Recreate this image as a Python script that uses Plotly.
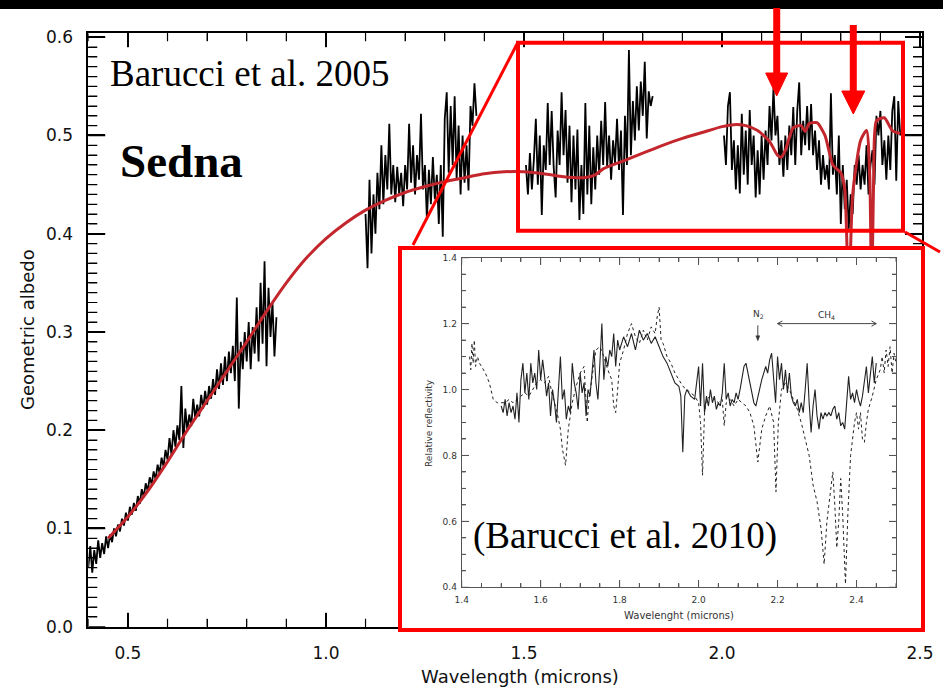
import numpy as np
import plotly.graph_objects as go

W, H = 943, 691


def fx(p):
    return p / W


def fy(p):
    return 1 - p / H


# ---------------- data ----------------
# Main spectrum (Barucci et al. 2005): geometric albedo, four spectral segments
vis_start, vis_step = 0.400, 0.005
vis_albedo = [0.060, 0.082, 0.055, 0.078, 0.064, 0.088, 0.070, 0.085, 0.074, 0.092,
              0.080, 0.094, 0.086, 0.100, 0.092, 0.104, 0.097, 0.110, 0.103, 0.116,
              0.108, 0.122, 0.114, 0.126, 0.118, 0.133, 0.125, 0.140, 0.132, 0.146,
              0.138, 0.152, 0.145, 0.158, 0.150, 0.165, 0.156, 0.172, 0.163, 0.180,
              0.170, 0.192, 0.175, 0.200, 0.183, 0.205, 0.190, 0.245, 0.182, 0.222,
              0.200, 0.216, 0.204, 0.232, 0.212, 0.226, 0.214, 0.236, 0.222, 0.240,
              0.226, 0.245, 0.232, 0.252, 0.236, 0.262, 0.242, 0.268, 0.246, 0.275,
              0.250, 0.280, 0.258, 0.286, 0.250, 0.335, 0.222, 0.290, 0.262, 0.300,
              0.270, 0.310, 0.262, 0.305, 0.278, 0.325, 0.270, 0.350, 0.288, 0.372,
              0.265, 0.345, 0.295, 0.330, 0.275, 0.315]

j_start, j_step = 1.100, 0.005
j_albedo = [0.420, 0.365, 0.455, 0.380, 0.440, 0.400, 0.462, 0.425, 0.490, 0.430,
            0.480, 0.445, 0.512, 0.440, 0.470, 0.432, 0.468, 0.440, 0.462, 0.428,
            0.470, 0.445, 0.512, 0.452, 0.490, 0.440, 0.480, 0.455, 0.522, 0.445,
            0.470, 0.414, 0.465, 0.430, 0.478, 0.435, 0.460, 0.410, 0.470, 0.397,
            0.517, 0.544, 0.462, 0.530, 0.470, 0.540, 0.455, 0.510, 0.440, 0.500,
            0.452, 0.490, 0.444, 0.530, 0.510, 0.553, 0.520]

h_start, h_step = 1.505, 0.005
h_albedo = [0.470, 0.440, 0.482, 0.445, 0.475, 0.517, 0.450, 0.500, 0.419, 0.490,
            0.465, 0.533, 0.470, 0.525, 0.468, 0.437, 0.505, 0.470, 0.544, 0.480,
            0.526, 0.452, 0.510, 0.432, 0.500, 0.445, 0.506, 0.414, 0.470, 0.420,
            0.533, 0.440, 0.510, 0.430, 0.488, 0.445, 0.500, 0.460, 0.515, 0.470,
            0.534, 0.468, 0.500, 0.455, 0.495, 0.472, 0.517, 0.465, 0.505, 0.419,
            0.520, 0.470, 0.587, 0.480, 0.535, 0.495, 0.550, 0.505, 0.555, 0.520,
            0.575, 0.497, 0.545, 0.530, 0.540]

k_start, k_step = 2.005, 0.005
k_albedo = [0.500, 0.470, 0.530, 0.544, 0.465, 0.495, 0.445, 0.490, 0.441, 0.522,
            0.460, 0.505, 0.450, 0.526, 0.470, 0.500, 0.437, 0.485, 0.440, 0.500,
            0.455, 0.505, 0.470, 0.530, 0.495, 0.548, 0.500, 0.520, 0.470, 0.495,
            0.458, 0.500, 0.465, 0.510, 0.480, 0.529, 0.470, 0.525, 0.554, 0.480,
            0.515, 0.490, 0.530, 0.485, 0.532, 0.480, 0.505, 0.465, 0.495, 0.450,
            0.480, 0.455, 0.470, 0.445, 0.543, 0.460, 0.480, 0.440, 0.500, 0.410,
            0.470, 0.425, 0.455, 0.405, 0.440, 0.420, 0.470, 0.450, 0.480, 0.445,
            0.470, 0.450, 0.490, 0.440, 0.470, 0.485, 0.450, 0.520, 0.500, 0.525,
            0.470, 0.495, 0.455, 0.500, 0.465, 0.525, 0.540, 0.454, 0.535, 0.500]

# Model fit (red curve)
model_wl = [0.45, 0.50, 0.55, 0.60, 0.65, 0.70, 0.75, 0.80, 0.85, 0.90,
            0.95, 1.00, 1.05, 1.10, 1.15, 1.20, 1.25, 1.30, 1.35, 1.40,
            1.45, 1.50, 1.55, 1.60, 1.65, 1.68, 1.70, 1.75, 1.80, 1.85,
            1.90, 1.95, 2.00, 2.03, 2.06, 2.09, 2.12, 2.14, 2.15, 2.16,
            2.18, 2.20, 2.21, 2.22, 2.24, 2.26, 2.28, 2.30, 2.31, 2.32,
            2.33, 2.35, 2.365, 2.373, 2.378, 2.383, 2.39, 2.41, 2.43, 2.45]
model_albedo = [0.090, 0.112, 0.138, 0.168, 0.200, 0.230, 0.260, 0.290, 0.321, 0.350,
                0.375, 0.395, 0.411, 0.424, 0.434, 0.442, 0.448, 0.453, 0.457, 0.461,
                0.463, 0.463, 0.461, 0.458, 0.457, 0.460, 0.466, 0.474, 0.482, 0.490,
                0.497, 0.503, 0.509, 0.511, 0.510, 0.505, 0.494, 0.480, 0.478, 0.485,
                0.508, 0.510, 0.504, 0.512, 0.513, 0.500, 0.470, 0.462, 0.445, 0.330,
                0.440, 0.495, 0.505, 0.460, 0.330, 0.460, 0.515, 0.518, 0.505, 0.502]

# Inset (Barucci et al. 2010): relative reflectivity
inset_obs_wl = [1.500, 1.505, 1.510, 1.515, 1.520, 1.525, 1.530, 1.535, 1.540, 1.545,
                1.550, 1.555, 1.560, 1.565, 1.570, 1.575, 1.580, 1.585, 1.590, 1.595,
                1.600, 1.605, 1.610, 1.615, 1.620, 1.625, 1.630, 1.635, 1.640, 1.645,
                1.650, 1.655, 1.660, 1.665, 1.670, 1.675, 1.680, 1.685, 1.690, 1.695,
                1.700, 1.705, 1.710, 1.715, 1.720, 1.725, 1.730, 1.735, 1.740, 1.745,
                1.750, 1.755, 1.760, 1.765, 1.770, 1.775, 1.780, 1.785, 1.790, 1.795,
                1.800, 1.810, 1.820, 1.830, 1.840, 1.850, 1.860, 1.870, 1.880, 1.890,
                1.900, 1.910, 1.920, 1.930, 1.940, 1.950, 1.955, 1.960, 1.965, 1.970,
                1.980, 1.990, 2.000, 2.005, 2.010, 2.015, 2.020, 2.025, 2.030, 2.035,
                2.040, 2.045, 2.050, 2.055, 2.060, 2.065, 2.070, 2.075, 2.080, 2.085,
                2.090, 2.095, 2.100, 2.105, 2.110, 2.115, 2.120, 2.125, 2.130, 2.135,
                2.140, 2.145, 2.150, 2.155, 2.160, 2.165, 2.170, 2.175, 2.180, 2.185,
                2.190, 2.195, 2.200, 2.205, 2.210, 2.215, 2.220, 2.225, 2.230, 2.235,
                2.240, 2.245, 2.250, 2.255, 2.260, 2.265, 2.270, 2.275, 2.280, 2.285,
                2.290, 2.295, 2.300, 2.305, 2.310, 2.315, 2.320, 2.325, 2.330, 2.335,
                2.340, 2.345, 2.350, 2.355, 2.360, 2.365, 2.370, 2.375, 2.380, 2.385,
                2.390, 2.395, 2.400, 2.405, 2.410, 2.415, 2.420, 2.425, 2.430, 2.435,
                2.440, 2.445, 2.450]
inset_obs_refl = [0.95, 0.93, 0.97, 0.92, 0.96, 0.93, 0.95, 0.91, 0.99, 0.90,
                  1.03, 1.08, 0.99, 1.05, 0.97, 1.08, 1.02, 1.05, 1.00, 1.12,
                  1.03, 1.09, 1.04, 0.98, 1.02, 0.92, 1.00, 0.96, 0.90, 1.00,
                  1.10, 0.97, 1.00, 0.91, 0.95, 0.93, 1.08, 1.02, 0.99, 0.94,
                  1.05, 0.99, 1.02, 0.92, 1.00, 0.98, 1.06, 1.12, 1.02, 0.97,
                  1.08, 1.20, 1.03, 1.10, 1.07, 1.12, 1.10, 1.17, 1.07, 1.15,
                  1.12, 1.16, 1.13, 1.17, 1.12, 1.18, 1.15, 1.17, 1.14, 1.16,
                  1.13, 1.10, 1.08, 1.05, 1.02, 1.01, 0.98, 0.81, 0.98, 1.00,
                  0.98, 0.97, 1.07, 0.95, 1.08, 0.93, 0.98, 0.95, 1.00, 0.96,
                  0.98, 0.94, 0.96, 0.95, 0.99, 1.08, 0.97, 0.99, 0.95, 0.97,
                  0.96, 0.99, 0.97, 1.00, 1.04, 1.07, 1.08, 1.05, 1.02, 0.99,
                  0.96, 0.95, 0.98, 1.00, 1.03, 1.05, 1.07, 1.05, 1.09, 1.11,
                  1.02, 0.96, 1.10, 1.03, 1.08, 1.00, 1.06, 0.99, 1.05, 0.98,
                  0.96, 0.95, 0.97, 0.93, 0.96, 0.93, 1.00, 1.08, 0.96, 0.87,
                  0.95, 1.00, 0.92, 0.88, 0.93, 0.91, 0.93, 0.92, 0.93, 0.92,
                  0.94, 0.95, 0.91, 0.93, 0.89, 0.90, 0.88, 0.95, 1.04, 0.97,
                  0.99, 0.96, 1.00, 0.97, 0.95, 0.98, 1.02, 1.07, 0.99, 1.05,
                  1.10, 1.02, 1.08]

inset_model_wl = [1.420, 1.423, 1.426, 1.429, 1.432, 1.435, 1.440, 1.445, 1.450, 1.460,
                  1.470, 1.480, 1.490, 1.500, 1.510, 1.520, 1.530, 1.540, 1.550, 1.560,
                  1.570, 1.580, 1.590, 1.600, 1.610, 1.620, 1.630, 1.640, 1.650, 1.655,
                  1.663, 1.670, 1.680, 1.690, 1.700, 1.710, 1.715, 1.718, 1.722, 1.730,
                  1.740, 1.750, 1.760, 1.770, 1.780, 1.785, 1.790, 1.795, 1.800, 1.810,
                  1.820, 1.830, 1.840, 1.850, 1.860, 1.870, 1.880, 1.890, 1.895, 1.900,
                  1.905, 1.910, 1.920, 1.930, 1.940, 1.950, 1.960, 1.970, 1.980, 1.990,
                  2.000, 2.005, 2.010, 2.015, 2.020, 2.030, 2.040, 2.050, 2.060, 2.065,
                  2.070, 2.080, 2.090, 2.100, 2.110, 2.120, 2.130, 2.140, 2.150, 2.155,
                  2.160, 2.170, 2.180, 2.190, 2.196, 2.202, 2.210, 2.220, 2.230, 2.240,
                  2.250, 2.260, 2.270, 2.280, 2.290, 2.300, 2.310, 2.318, 2.325, 2.335,
                  2.340, 2.345, 2.350, 2.355, 2.360, 2.365, 2.372, 2.378, 2.385, 2.395,
                  2.400, 2.405, 2.410, 2.415, 2.420, 2.425, 2.430, 2.440, 2.450, 2.460,
                  2.465, 2.470, 2.475, 2.480, 2.485, 2.490, 2.495, 2.500]
inset_model_refl = [1.10, 1.06, 1.14, 1.08, 1.15, 1.07, 1.10, 1.08, 1.07, 1.05,
                    1.02, 0.97, 0.96, 0.96, 0.96, 0.97, 0.96, 0.97, 0.98, 0.99,
                    0.98, 1.00, 1.02, 1.03, 1.02, 1.04, 0.98, 0.94, 0.88, 0.82,
                    0.77, 0.88, 0.96, 1.01, 1.05, 1.07, 0.95, 0.90, 0.97, 1.04,
                    1.12, 1.13, 1.10, 1.06, 1.03, 0.95, 0.93, 1.00, 1.08, 1.12,
                    1.17, 1.20, 1.16, 1.14, 1.18, 1.15, 1.19, 1.17, 1.22, 1.25,
                    1.15, 1.14, 1.10, 1.08, 1.05, 1.03, 1.01, 1.00, 0.99, 0.98,
                    0.96, 0.90, 0.74, 0.93, 0.97, 0.98, 0.97, 0.96, 0.97, 0.89,
                    0.96, 0.97, 0.95, 0.97, 0.96, 0.95, 0.93, 0.89, 0.78, 0.83,
                    0.88, 0.92, 0.95, 0.90, 0.69, 0.90, 1.00, 1.02, 1.00, 0.97,
                    0.94, 0.90, 0.85, 0.80, 0.71, 0.66, 0.58, 0.47, 0.60, 0.70,
                    0.75, 0.65, 0.52, 0.60, 0.73, 0.62, 0.41, 0.62, 0.80, 0.90,
                    0.93, 0.88, 0.93, 0.85, 0.84, 0.90, 0.94, 0.98, 1.03, 1.06,
                    1.10, 1.05, 1.12, 1.07, 1.13, 1.05, 1.11, 1.08]

# tick values
main_xticks = [0.5, 1.0, 1.5, 2.0, 2.5]
main_yticks = [0.0, 0.1, 0.2, 0.3, 0.4, 0.5, 0.6]
inset_xticks = [1.4, 1.6, 1.8, 2.0, 2.2, 2.4]
inset_yticks = [0.4, 0.6, 0.8, 1.0, 1.2, 1.4]

# band markers in the inset
n2_wl = 2.15
ch4_range = [2.20, 2.45]
band_level = 1.20

# ---------------- geometry ----------------
MX = (88.3, 922.0)      # main plot x pixels
MY = (626.7, 33.3)      # main plot y pixels (bottom, top)
MXR = (0.4, 2.505)
MYR = (0.0, 0.604)
IX = (461.7, 896.0)     # inset plot x pixels
IY = (587.3, 257.7)
IXR = (1.4, 2.5)
IYR = (0.4, 1.4)


def ix(v):  # inset data x -> paper
    return fx(IX[0] + (v - IXR[0]) / (IXR[1] - IXR[0]) * (IX[1] - IX[0]))


def iy(v):  # inset data y -> paper
    return fy(IY[0] - (v - IYR[0]) / (IYR[1] - IYR[0]) * (IY[0] - IY[1]))


def grid(start, step, vals):
    return list(np.round(start + step * np.arange(len(vals)), 4))


def tick_path(xvals, yvals, xr, yr, xlen, ylen):
    """segments for inside ticks on all four sides (in data units)"""
    px, py = [], []
    for v in xvals:
        px += [v, v, None, v, v, None]
        py += [yr[0], yr[0] + ylen, None, yr[1], yr[1] - ylen, None]
    for v in yvals:
        px += [xr[0], xr[0] + xlen, None, xr[1], xr[1] - xlen, None]
        py += [v, v, None, v, v, None]
    return px, py


# assemble the observed spectrum with gaps between segments
obs_x, obs_y = [], []
for st, sp, vals in [(vis_start, vis_step, vis_albedo), (j_start, j_step, j_albedo),
                     (h_start, h_step, h_albedo), (k_start, k_step, k_albedo)]:
    obs_x += [float(v) for v in grid(st, sp, vals)] + [None]
    obs_y += list(vals) + [None]

fig = go.Figure()

# tick marks (main): lengths converted from pixels through the axis scale
mx_ppu = (MX[1] - MX[0]) / (MXR[1] - MXR[0])
my_ppu = (MY[0] - MY[1]) / (MYR[1] - MYR[0])
minor_x = [round(v, 3) for v in np.arange(0.4, 2.5001, 0.1) if round(v, 3) not in main_xticks]
minor_y = [round(v, 3) for v in np.arange(0.0, 0.6001, 0.01)
           if min(abs(v - t) for t in main_yticks) > 1e-6]
tx, ty = tick_path(main_xticks, main_yticks, MXR, MYR, 17 / mx_ppu, 14 / my_ppu)
fig.add_trace(go.Scatter(x=tx, y=ty, mode="lines", line=dict(color="black", width=1.5),
                         hoverinfo="skip", showlegend=False))
tx, ty = tick_path(minor_x, minor_y, MXR, MYR, 9 / mx_ppu, 8 / my_ppu)
fig.add_trace(go.Scatter(x=tx, y=ty, mode="lines", line=dict(color="black", width=1.2),
                         hoverinfo="skip", showlegend=False))

fig.add_trace(go.Scatter(x=obs_x, y=obs_y, mode="lines",
                         line=dict(color="black", width=1.8),
                         hoverinfo="skip", showlegend=False))
fig.add_trace(go.Scatter(x=model_wl, y=model_albedo, mode="lines",
                         line=dict(color="#c3262c", width=3, shape="spline", smoothing=0.6),
                         hoverinfo="skip", showlegend=False))
# white cover behind the inset
fig.add_trace(go.Scatter(x=[0.5], y=[0.5], xaxis="x2", yaxis="y2", mode="markers",
                         marker=dict(opacity=0), hoverinfo="skip", showlegend=False))

# inset tick marks
ix_ppu = (IX[1] - IX[0]) / (IXR[1] - IXR[0])
iy_ppu = (IY[0] - IY[1]) / (IYR[1] - IYR[0])
iminor_x = [round(v, 3) for v in np.arange(1.4, 2.5001, 0.05)
            if min(abs(v - t) for t in inset_xticks) > 1e-6]
iminor_y = [round(v, 3) for v in np.arange(0.4, 1.4001, 0.05)
            if min(abs(v - t) for t in inset_yticks) > 1e-6]
tx, ty = tick_path(inset_xticks, inset_yticks, IXR, IYR, 7 / ix_ppu, 7 / iy_ppu)
fig.add_trace(go.Scatter(x=tx, y=ty, xaxis="x3", yaxis="y3", mode="lines",
                         line=dict(color="#555", width=1), hoverinfo="skip", showlegend=False))
tx, ty = tick_path(iminor_x, iminor_y, IXR, IYR, 4 / ix_ppu, 4 / iy_ppu)
fig.add_trace(go.Scatter(x=tx, y=ty, xaxis="x3", yaxis="y3", mode="lines",
                         line=dict(color="#555", width=1), hoverinfo="skip", showlegend=False))

# inset spectra
fig.add_trace(go.Scatter(x=inset_model_wl, y=inset_model_refl, xaxis="x3", yaxis="y3",
                         mode="lines", line=dict(color="#222", width=1, dash="dot"),
                         hoverinfo="skip", showlegend=False))
fig.add_trace(go.Scatter(x=inset_obs_wl, y=inset_obs_refl, xaxis="x3", yaxis="y3",
                         mode="lines", line=dict(color="#222", width=1.1),
                         hoverinfo="skip", showlegend=False))

main_font = dict(family="DejaVu Sans", size=17, color="#111")
inset_font = dict(family="DejaVu Sans", size=9, color="#333")

fig.update_layout(
    width=W, height=H, margin=dict(l=0, r=0, t=0, b=0), template="none",
    showlegend=False,
    xaxis=dict(domain=[fx(MX[0]), fx(MX[1])], range=list(MXR),
               tickmode="linear", tick0=0, dtick=0.5, tickformat=".1f",
               ticks="inside", ticklen=14, tickwidth=1.5, tickcolor="black",
               minor=dict(ticks="inside", dtick=0.1, tick0=0, ticklen=8, tickwidth=1.2,
                          tickcolor="black", showgrid=False),
               showline=True, linecolor="black", linewidth=1.8, mirror="allticks",
               showgrid=False, zeroline=False, tickfont=main_font,
               ticklabelstandoff=10, automargin=False, anchor="y"),
    yaxis=dict(domain=[fy(MY[0]), fy(MY[1])], range=list(MYR),
               tickmode="linear", tick0=0, dtick=0.1, tickformat=".1f",
               ticks="inside", ticklen=17, tickwidth=1.5, tickcolor="black",
               minor=dict(ticks="inside", dtick=0.01, tick0=0, ticklen=9, tickwidth=1.2,
                          tickcolor="black", showgrid=False),
               showline=True, linecolor="black", linewidth=1.8, mirror="allticks",
               showgrid=False, zeroline=False, tickfont=main_font,
               ticklabelstandoff=10, automargin=False, anchor="x"),
    xaxis2=dict(domain=[fx(398), fx(926)], range=[0, 1], showline=False, ticks="",
                showticklabels=False, showgrid=False, zeroline=False, anchor="y2"),
    yaxis2=dict(domain=[fy(632), fy(246)], range=[0, 1], showline=False, ticks="",
                showticklabels=False, showgrid=False, zeroline=False, anchor="x2"),
    xaxis3=dict(domain=[fx(IX[0]), fx(IX[1])], range=list(IXR),
                tickmode="linear", tick0=1.4, dtick=0.2, tickformat=".1f",
                ticks="inside", ticklen=7, tickwidth=1, tickcolor="#555",
                minor=dict(ticks="inside", dtick=0.05, tick0=1.4, ticklen=4,
                           tickcolor="#555", showgrid=False),
                showline=True, linecolor="#555", linewidth=1, mirror="allticks",
                showgrid=False, zeroline=False, tickfont=inset_font,
                ticklabelstandoff=4, automargin=False, anchor="y3"),
    yaxis3=dict(domain=[fy(IY[0]), fy(IY[1])], range=list(IYR),
                tickmode="linear", tick0=0.4, dtick=0.2, tickformat=".1f",
                ticks="inside", ticklen=7, tickwidth=1, tickcolor="#555",
                minor=dict(ticks="inside", dtick=0.05, tick0=0.4, ticklen=4,
                           tickcolor="#555", showgrid=False),
                showline=True, linecolor="#555", linewidth=1, mirror="allticks",
                showgrid=False, zeroline=False, tickfont=inset_font,
                ticklabelstandoff=2, automargin=False, anchor="x3"),
)

RED = "#ff0000"
shapes = []
# black band at top of image
shapes.append(dict(type="rect", xref="paper", yref="paper", x0=0, x1=1,
                   y0=fy(8.5), y1=1, fillcolor="black", line=dict(color="black", width=1),
                   layer="above"))
# zoom box on main plot
shapes.append(dict(type="rect", xref="paper", yref="paper", x0=fx(518), x1=fx(903),
                   y0=fy(230.7), y1=fy(42.7), line=dict(color=RED, width=4), layer="above"))
# inset frame
shapes.append(dict(type="rect", xref="paper", yref="paper", x0=fx(400), x1=fx(923),
                   y0=fy(630), y1=fy(248), line=dict(color=RED, width=4), layer="above"))
# connecting lines
shapes.append(dict(type="line", xref="paper", yref="paper", x0=fx(517), y0=fy(44),
                   x1=fx(413), y1=fy(245), line=dict(color=RED, width=3), layer="above"))
shapes.append(dict(type="line", xref="paper", yref="paper", x0=fx(905), y0=fy(232),
                   x1=fx(940), y1=fy(252), line=dict(color=RED, width=3), layer="above"))


def arrow(xc, ytop, yhead, ytip, half):
    return [dict(type="line", xref="paper", yref="paper", x0=fx(xc), x1=fx(xc),
                 y0=fy(ytop), y1=fy(yhead + 2), line=dict(color=RED, width=7), layer="above"),
            dict(type="path", xref="paper", yref="paper",
                 path=f"M {fx(xc - half)},{fy(yhead)} L {fx(xc + half)},{fy(yhead)} L {fx(xc)},{fy(ytip)} Z",
                 fillcolor=RED, line=dict(color=RED, width=1), layer="above")]


shapes += arrow(776.7, 8, 73, 96, 11)
shapes += arrow(853.3, 25, 91, 114, 11.5)

# inset band markers (thin arrows), placed through the inset scale
AC = "#333"
shapes.append(dict(type="line", xref="paper", yref="paper", x0=ix(n2_wl), x1=ix(n2_wl),
                   y0=iy(band_level - 0.005), y1=iy(1.152), line=dict(color=AC, width=0.9),
                   layer="above"))
shapes.append(dict(type="path", xref="paper", yref="paper",
                   path=f"M {ix(n2_wl - 0.005)},{iy(1.163)} L {ix(n2_wl + 0.005)},{iy(1.163)} L {ix(n2_wl)},{iy(1.148)} Z",
                   fillcolor=AC, line=dict(color=AC, width=0.5), layer="above"))
shapes.append(dict(type="line", xref="paper", yref="paper", x0=ix(ch4_range[0]), x1=ix(ch4_range[1]),
                   y0=iy(band_level), y1=iy(band_level), line=dict(color=AC, width=0.9),
                   layer="above"))
for xe, d in [(ch4_range[0], 1), (ch4_range[1], -1)]:
    shapes.append(dict(type="path", xref="paper", yref="paper",
                       path=f"M {ix(xe + d * 0.012)},{iy(band_level + 0.008)} L {ix(xe)},{iy(band_level)} L {ix(xe + d * 0.012)},{iy(band_level - 0.008)}",
                       line=dict(color=AC, width=0.9), layer="above"))
fig.update_layout(shapes=shapes)

ann = []
ann.append(dict(text="Barucci et al. 2005", xref="paper", yref="paper", x=fx(108), y=fy(74),
                xanchor="left", yanchor="middle", showarrow=False,
                font=dict(family="Liberation Serif", size=37, color="black")))
ann.append(dict(text="<b>Sedna</b>", xref="paper", yref="paper", x=fx(118), y=fy(161),
                xanchor="left", yanchor="middle", showarrow=False,
                font=dict(family="Liberation Serif", size=47, color="black")))
ann.append(dict(text="(Barucci et al. 2010)", xref="paper", yref="paper", x=fx(625), y=fy(536),
                xanchor="center", yanchor="middle", showarrow=False,
                font=dict(family="Liberation Serif", size=37, color="black")))
ann.append(dict(text="Geometric albedo", xref="paper", yref="paper", x=fx(27), y=fy(330),
                xanchor="center", yanchor="middle", showarrow=False, textangle=-90,
                font=dict(family="DejaVu Sans", size=18, color="#111")))
ann.append(dict(text="Wavelength (microns)", xref="paper", yref="paper", x=fx(520), y=fy(676),
                xanchor="center", yanchor="middle", showarrow=False,
                font=dict(family="DejaVu Sans", size=18, color="#111")))
ann.append(dict(text="Relative reflectivity", xref="paper", yref="paper", x=fx(429), y=fy(423),
                xanchor="center", yanchor="middle", showarrow=False, textangle=-90,
                font=inset_font))
ann.append(dict(text="Wavelenght (microns)", xref="paper", yref="paper", x=fx(679), y=fy(615),
                xanchor="center", yanchor="middle", showarrow=False,
                font=dict(family="DejaVu Sans", size=10, color="#333")))
ann.append(dict(text="N<sub>2</sub>", xref="paper", yref="paper", x=ix(2.152), y=iy(1.227),
                xanchor="center", yanchor="middle", showarrow=False, font=inset_font))
ann.append(dict(text="CH<sub>4</sub>", xref="paper", yref="paper", x=ix(2.325), y=iy(1.225),
                xanchor="center", yanchor="middle", showarrow=False, font=inset_font))
fig.update_layout(annotations=ann)

fig.write_html("out.html")
